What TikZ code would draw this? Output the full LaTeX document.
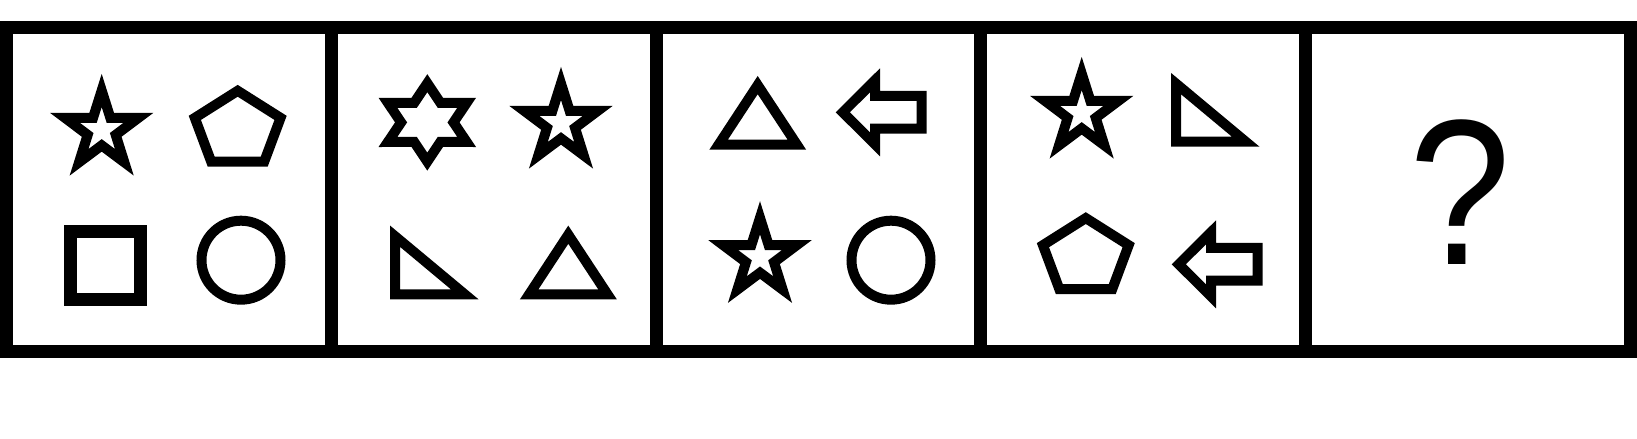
\documentclass[tikz,border=0pt]{standalone}
\usepackage{fontspec}
\setmainfont{Liberation Sans}
\usepackage{tikz}

\begin{document}
\begin{tikzpicture}[x=0.1mm,y=-0.1mm,
    frame/.style={line width=1.3mm,line join=miter},
    shp/.style={line width=1mm,line join=miter}]
  \useasboundingbox (0,0) rectangle (1637,439);
  % ---- panel frame ----
  \draw[frame] (6.5,27.5) rectangle (1630.5,352);
  \foreach \x in {331.3,656.1,980.9,1305.7}
      \draw[frame] (\x,27.5) -- (\x,352);
  % ---- five-point stars ----
  \foreach \cx/\cy in {101.7/130.2, 561/123.2, 760/257.5, 1081.7/113.2}{
      \draw[shp,shift={(\cx,\cy)},xscale=0.97] (-90:39.7)
          \foreach \k in {0,...,3}{ -- ({-54+72*\k}:15.2) -- ({-18+72*\k}:39.7) }
          -- (234:15.2) -- cycle;}
  % ---- six-point star ----
  \draw[shp,shift={(427.3,122.4)},xscale=1.16] (-90:39.2)
      \foreach \k in {0,...,4}{ -- ({-60+60*\k}:22.6) -- ({-30+60*\k}:39.2) }
      -- (240:22.6) -- cycle;
  % ---- pentagons ----
  \foreach \cx/\cy in {237.7/130, 1085.8/257.3}{
      \draw[shp,shift={(\cx,\cy)},xscale=1.15]
          (-90:39.2) -- (-18:39.2) -- (54:39.2) -- (126:39.2) -- (198:39.2) -- cycle;}
  % ---- square + circles ----
  \draw[frame] (70.5,231.7) rectangle (140.3,299.7);
  \foreach \cx in {241,891}
      \draw[shp] (\cx,260.2) circle (39.5);
  % ---- right triangles ----
  \foreach \dx/\dy in {0/0, 781/-152.6}{
      \draw[shp,shift={(\dx,\dy)}] (395,236.2) -- (395,294.3) -- (464.7,294.3) -- cycle;}
  % ---- upright triangles ----
  \foreach \dx/\dy in {0/0, 189.4/-149.6}{
      \draw[shp,shift={(\dx,\dy)}] (568.3,234.7) -- (529.2,294.3) -- (607.5,294.3) -- cycle;}
  % ---- left arrows ----
  \foreach \dx/\dy in {0/0, 336/152}{
      \draw[shp,shift={(\dx,\dy)}] (842.8,112.3) -- (875,80.3) -- (875,96) -- (921.7,96)
          -- (921.7,128.7) -- (875,128.7) -- (875,144.3) -- cycle;}
  % ---- answer panel ----
  \node[font=\fontsize{59pt}{62pt}\selectfont,anchor=base,inner sep=0pt] (qmark)
      at (1460.5,265) {\scalebox{0.88}[1]{?}};
\end{tikzpicture}
\end{document}
